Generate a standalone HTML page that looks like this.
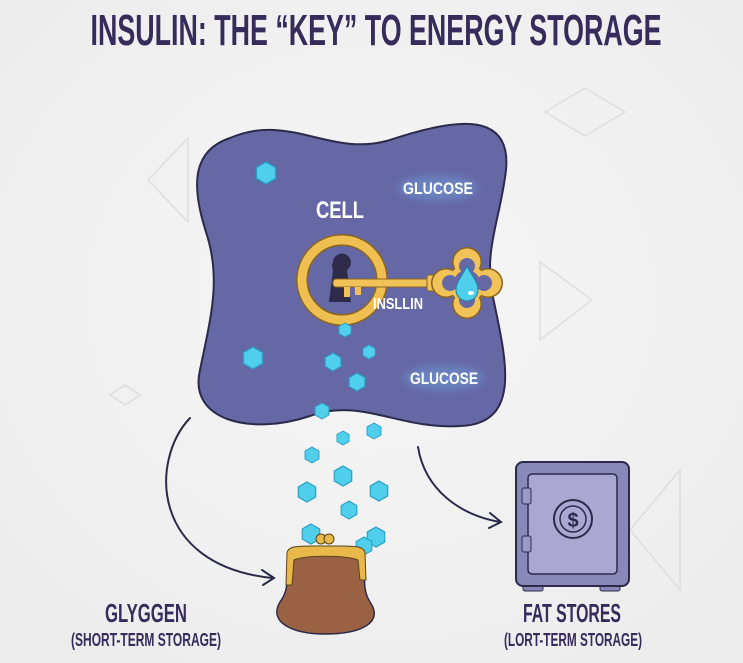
<!DOCTYPE html>
<html><head><meta charset="utf-8"><style>
html,body{margin:0;padding:0;background:#f1f1f1;}
svg{display:block;}
text{font-family:"Liberation Sans",sans-serif;font-weight:bold;}
</style></head><body>
<svg width="743" height="663" viewBox="0 0 743 663" xmlns="http://www.w3.org/2000/svg">
<defs>
<radialGradient id="bg" cx="50%" cy="45%" r="70%"><stop offset="0" stop-color="#f6f6f6"/><stop offset="1" stop-color="#ececec"/></radialGradient>
<filter id="glow" x="-50%" y="-50%" width="200%" height="200%"><feGaussianBlur stdDeviation="4"/></filter>
<g id="hex"><polygon points="0,-1 0.87,-0.5 0.87,0.5 0,1 -0.87,0.5 -0.87,-0.5" fill="#4fcfec" stroke="#2a9fc4" stroke-width="0.12"/></g>
</defs>
<rect width="743" height="663" fill="url(#bg)"/>
<g fill="none" stroke="#dedede" stroke-width="1.5">
<polygon points="585,88 625,112 585,136 545,112"/>
<polygon points="188,138 188,222 148,180"/>
<polygon points="540,262 540,340 592,300"/>
<polygon points="125,385 140,395 125,405 110,395"/>
<polygon points="680,470 680,590 630,530"/>
</g>
<text x="376" y="45" font-size="44" fill="#352c5c" text-anchor="middle" textLength="571" lengthAdjust="spacingAndGlyphs">INSULIN: THE “KEY” TO ENERGY STORAGE</text>

<path d="M230,138 C290,112 330,158 390,140 C450,120 512,108 506,170 C500,222 482,252 494,302 C506,360 522,424 460,426 C400,430 360,397 310,416 C250,436 188,420 200,370 C210,320 222,280 206,232 C190,182 194,150 230,138 Z" fill="#6668a6" stroke="#2b2a4a" stroke-width="2"/>

<ellipse cx="438" cy="188" rx="40" ry="12" fill="#6fb7f0" opacity="0.35" filter="url(#glow)"/>
<ellipse cx="444" cy="378" rx="40" ry="12" fill="#6fb7f0" opacity="0.35" filter="url(#glow)"/>
<text x="340" y="218" font-size="24" fill="#fff" text-anchor="middle" textLength="48" lengthAdjust="spacingAndGlyphs">CELL</text>
<text x="438" y="194" font-size="17" fill="#fff" text-anchor="middle" textLength="70" lengthAdjust="spacingAndGlyphs">GLUCOSE</text>
<text x="444" y="384" font-size="17" fill="#fff" text-anchor="middle" textLength="68" lengthAdjust="spacingAndGlyphs">GLUCOSE</text>

<!-- key -->
<circle cx="342" cy="280" r="40" fill="none" stroke="#8a6420" stroke-width="12"/>
<circle cx="342" cy="280" r="40" fill="none" stroke="#efbf52" stroke-width="9"/>
<path d="M333,262 a9,9 0 1 1 14,8 l4,32 h-22 l4,-32 a9,9 0 0 1 0,-8 z" fill="#2d2a4a"/>
<rect x="333" y="279" width="100" height="8" rx="3" fill="#f0c257" stroke="#8a6420" stroke-width="1"/>
<rect x="344" y="287" width="6" height="10" fill="#f0c257"/>
<rect x="355" y="287" width="6" height="8" fill="#f0c257"/>
<rect x="427" y="275" width="9" height="16" rx="2" fill="#f0c257" stroke="#8a6420" stroke-width="1"/>
<g fill="#8a6420">
<circle cx="467" cy="262" r="15"/><circle cx="467" cy="304" r="15"/><circle cx="446" cy="283" r="15"/><circle cx="488" cy="283" r="15"/><circle cx="467" cy="283" r="20"/>
</g>
<g fill="#f0c257">
<circle cx="467" cy="262" r="13.5"/><circle cx="467" cy="304" r="13.5"/><circle cx="446" cy="283" r="13.5"/><circle cx="488" cy="283" r="13.5"/><circle cx="467" cy="283" r="18.5"/>
</g>
<g fill="#6668a6">
<circle cx="467" cy="266" r="8"/><circle cx="467" cy="300" r="8"/><circle cx="450" cy="283" r="8"/><circle cx="484" cy="283" r="8"/><circle cx="467" cy="283" r="13"/>
</g>
<path d="M467,266 C472,276 478,282 478,290 a11,11 0 0 1 -22,0 C456,282 462,276 467,266 Z" fill="#4fcfec" stroke="#1e7fa0" stroke-width="1"/>
<ellipse cx="471" cy="293" rx="3" ry="2" fill="#fff"/>
<text x="398" y="309" font-size="16" fill="#fff" text-anchor="middle" textLength="50" lengthAdjust="spacingAndGlyphs">INSLLIN</text>

<!-- arrows -->
<g fill="none" stroke="#2b2a4a" stroke-width="2" stroke-linecap="round">
<path d="M190,418 C150,460 150,565 272,578"/>
<path d="M262,570 L274,578 L263,585"/>
<path d="M418,447 C425,490 460,515 500,522"/>
<path d="M490,513 L501,522 L489,528"/>
</g>

<!-- hexagons -->
<g>
<use href="#hex" transform="translate(266,173) scale(11)"/>
<use href="#hex" transform="translate(253,358) scale(11)"/>
<use href="#hex" transform="translate(345,330) scale(7)"/>
<use href="#hex" transform="translate(333,362) scale(9)"/>
<use href="#hex" transform="translate(369,352) scale(7)"/>
<use href="#hex" transform="translate(357,382) scale(9)"/>
<use href="#hex" transform="translate(322,411) scale(8)"/>
<use href="#hex" transform="translate(343,438) scale(7)"/>
<use href="#hex" transform="translate(374,431) scale(8)"/>
<use href="#hex" transform="translate(312,455) scale(8)"/>
<use href="#hex" transform="translate(343,476) scale(10)"/>
<use href="#hex" transform="translate(379,491) scale(10)"/>
<use href="#hex" transform="translate(307,492) scale(10)"/>
<use href="#hex" transform="translate(349,510) scale(9)"/>
<use href="#hex" transform="translate(311,534) scale(10)"/>
<use href="#hex" transform="translate(376,537) scale(10)"/>
<use href="#hex" transform="translate(364,546) scale(9)"/>
</g>

<!-- purse -->
<path d="M290,552 C284,572 292,586 280,602 C268,622 292,634 325,634 C362,634 384,622 370,602 C360,586 368,572 362,552 Z" fill="#9a6242" stroke="#2b2a4a" stroke-width="1.5"/>
<path d="M287,553 C288,545 300,546 325,546 C352,546 364,545 365,553 L366,580 L360,580 L358,560 C345,555 305,555 294,560 L292,585 L286,585 Z" fill="#e9b84a" stroke="#5a4420" stroke-width="1"/>
<circle cx="321" cy="539" r="5" fill="#e9b84a" stroke="#5a4420"/>
<circle cx="329" cy="539" r="5" fill="#e9b84a" stroke="#5a4420"/>

<!-- safe -->
<rect x="523" y="583" width="20" height="8" rx="2" fill="#8a88b8" stroke="#2b2a4a"/>
<rect x="600" y="583" width="20" height="8" rx="2" fill="#8a88b8" stroke="#2b2a4a"/>
<rect x="516" y="462" width="113" height="124" rx="7" fill="#8a88b8" stroke="#2b2a4a" stroke-width="2"/>
<rect x="528" y="474" width="89" height="100" rx="4" fill="#aaa8d2" stroke="#2b2a4a" stroke-width="1.5"/>
<rect x="522" y="488" width="9" height="16" rx="2" fill="#9a98c6" stroke="#2b2a4a"/>
<rect x="522" y="536" width="9" height="16" rx="2" fill="#9a98c6" stroke="#2b2a4a"/>
<circle cx="573" cy="519" r="19" fill="#aaa8d2" stroke="#2b2a4a" stroke-width="2"/>
<circle cx="573" cy="519" r="13" fill="none" stroke="#2b2a4a" stroke-width="1.5"/>
<text x="573" y="527" font-size="20" fill="#2b2a4a" text-anchor="middle" font-weight="normal">$</text>

<text x="146" y="622" font-size="26" fill="#352c5c" text-anchor="middle" textLength="82" lengthAdjust="spacingAndGlyphs">GLYGGEN</text>
<text x="146" y="646" font-size="18" fill="#352c5c" text-anchor="middle" font-weight="normal" textLength="150" lengthAdjust="spacingAndGlyphs">(SHORT-TERM STORAGE)</text>
<text x="572" y="622" font-size="26" fill="#352c5c" text-anchor="middle" textLength="98" lengthAdjust="spacingAndGlyphs">FAT STORES</text>
<text x="573" y="646" font-size="18" fill="#352c5c" text-anchor="middle" font-weight="normal" textLength="138" lengthAdjust="spacingAndGlyphs">(LORT-TERM STORAGE)</text>
</svg>
</body></html>
